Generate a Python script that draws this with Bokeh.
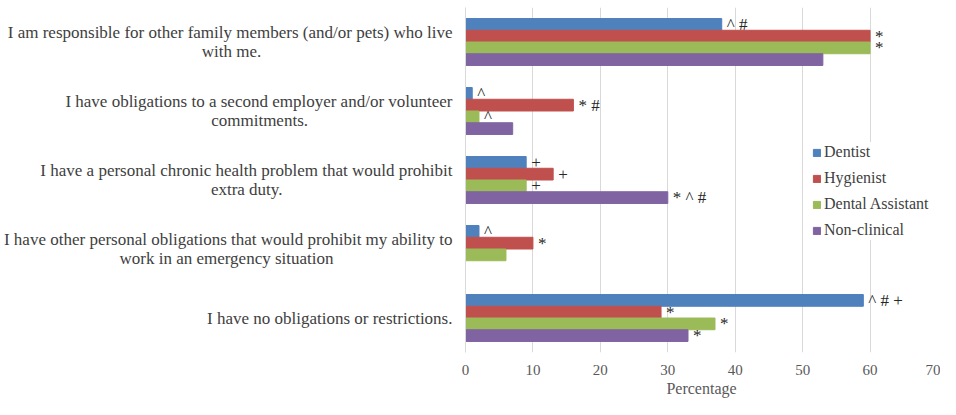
from bokeh.plotting import figure
from bokeh.models import ColumnDataSource, FactorRange, Legend, LegendItem
from bokeh.transform import dodge
from bokeh.core.properties import value
from bokeh.embed import file_html
from bokeh.resources import INLINE

# ---- data ----
categories = [
    "I am responsible for other family members (and/or pets) who live\nwith me.",
    "I have obligations to a second employer and/or volunteer\ncommitments.",
    "I have a personal chronic health problem that would prohibit\nextra duty.",
    "I have other personal obligations that would prohibit my ability to\nwork in an emergency situation",
    "I have no obligations or restrictions.",
]
series = ["Dentist", "Hygienist", "Dental Assistant", "Non-clinical"]
dentist = [38, 1, 9, 2, 59]
hygienist = [60, 16, 13, 10, 29]
dental_assistant = [60, 2, 9, 6, 37]
non_clinical = [53, 7, 30, 0, 33]
dentist_marks = ["^ #", "^", "+", "^", "^ # +"]
hygienist_marks = ["*", "* #", "+", "*", "*"]
assistant_marks = ["*", "^", "+", "", "*"]
nonclinical_marks = ["", "", "* ^ #", "", "*"]
x_ticks = [0, 10, 20, 30, 40, 50, 60, 70]

# ---- layout / style ----
# trailing no-break spaces so the second line sits centred under the first
line2_pad = [45, 34, 40, 28, 0]
shown = [c + "\u00a0" * n for c, n in zip(categories, line2_pad)]

colors = ["#4F81BD", "#C0504D", "#9BBB59", "#8064A2"]
offsets = [0.255, 0.085, -0.085, -0.255]
FONT = "Liberation Serif"

src = ColumnDataSource(data=dict(
    cat=shown,
    v0=dentist, v1=hygienist, v2=dental_assistant, v3=non_clinical,
    m0=dentist_marks, m1=hygienist_marks, m2=assistant_marks, m3=nonclinical_marks,
))

p = figure(width=940, height=399,
           y_range=FactorRange(factors=list(reversed(shown))),
           x_range=(0, 70),
           output_backend="svg", toolbar_location=None,
           min_border_left=463, min_border_right=3,
           min_border_top=7, min_border_bottom=43)

items = []
for i, name in enumerate(series):
    r = p.hbar(y=dodge("cat", offsets[i], range=p.y_range), right="v%d" % i, left=0,
               height=0.17, source=src, fill_color=colors[i], line_color=colors[i])
    items.append(LegendItem(label=name, renderers=[r]))
    p.text(x="v%d" % i, y=dodge("cat", offsets[i], range=p.y_range), text="m%d" % i,
           source=src, x_offset=5, text_baseline="middle", text_align="left",
           text_font=value(FONT), text_font_size="17px",
           text_color="#262626")

legend = Legend(items=items, location=(347, 112), orientation="vertical",
                glyph_width=9, glyph_height=9, label_standoff=3, spacing=6,
                label_height=20, padding=0, margin=0,
                label_text_font=FONT, label_text_font_size="16px",
                label_text_color="#404040", border_line_color=None,
                background_fill_alpha=1.0)
p.add_layout(legend)

p.outline_line_color = None
p.ygrid.grid_line_color = None
p.xgrid.grid_line_color = "#d9d9d9"
p.xaxis.ticker = x_ticks
p.xaxis.axis_line_color = None
p.xaxis.major_tick_line_color = None
p.xaxis.minor_tick_line_color = None
p.xaxis.major_label_text_font = FONT
p.xaxis.major_label_text_font_size = "15px"
p.xaxis.major_label_text_color = "#595959"
p.xaxis.major_label_standoff = 6
p.xaxis.axis_label = "Percentage"
p.xaxis.axis_label_text_font = FONT
p.xaxis.axis_label_text_font_size = "16px"
p.xaxis.axis_label_text_font_style = "normal"
p.xaxis.axis_label_text_color = "#595959"
p.xaxis.axis_label_standoff = 2

p.yaxis.axis_line_color = "#d9d9d9"
p.yaxis.major_tick_line_color = None
p.yaxis.minor_tick_line_color = None
p.yaxis.major_label_text_font = FONT
p.yaxis.major_label_text_font_size = "17px"
p.yaxis.major_label_text_color = "#404040"
p.yaxis.major_label_text_line_height = 1.02
p.yaxis.major_label_standoff = 7

open("out.html", "w").write(file_html(p, INLINE))
